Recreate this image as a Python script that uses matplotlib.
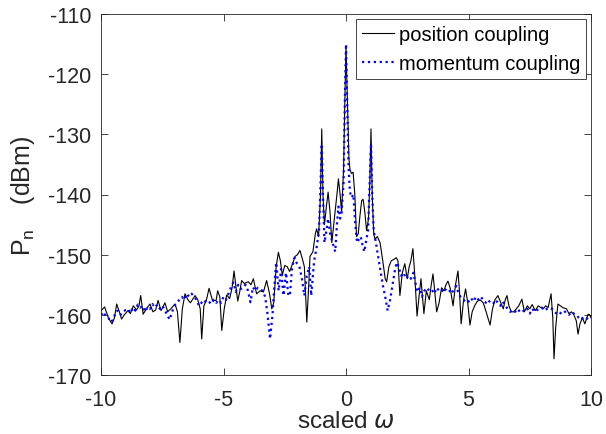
import matplotlib
matplotlib.use("Agg")
import matplotlib.pyplot as plt

plt.rcParams['font.family'] = ['Liberation Sans', 'DejaVu Sans']
plt.rcParams['axes.unicode_minus'] = False

# position coupling (black)
x_pos = [-10.0, -9.85, -9.7, -9.55, -9.45, -9.36, -9.25, -9.16, -9.05, -8.9, -8.8, -8.68, -8.55, -8.45,
         -8.38, -8.28, -8.15, -8.0, -7.88, -7.77, -7.67, -7.55, -7.39, -7.28, -7.15, -6.98, -6.88, -6.78,
         -6.68, -6.57, -6.45, -6.35, -6.16, -6.05, -5.95, -5.89, -5.8, -5.7, -5.59, -5.45, -5.3, -5.24,
         -5.15, -5.07, -4.97, -4.87, -4.75, -4.65, -4.57, -4.5, -4.42, -4.33, -4.26, -4.15, -3.99, -3.88,
         -3.78, -3.65, -3.5, -3.37, -3.24, -3.12, -3.03, -2.95, -2.85, -2.76, -2.68, -2.6, -2.5, -2.4,
         -2.3, -2.18, -2.08, -1.98, -1.88, -1.76, -1.7, -1.6, -1.52, -1.47, -1.35, -1.25, -1.2, -1.12,
         -1.04, -0.99, -0.94, -0.88, -0.8, -0.73, -0.65, -0.58, -0.5, -0.44, -0.37, -0.31, -0.24, -0.18,
         -0.1, -0.05, 0.0, 0.06, 0.12, 0.16, 0.22, 0.29, 0.36, 0.43, 0.5, 0.57, 0.64, 0.7, 0.77, 0.84,
         0.92, 0.97, 1.02, 1.07, 1.13, 1.18, 1.28, 1.39, 1.5, 1.6, 1.66, 1.75, 1.85, 1.95, 2.05, 2.12,
         2.2, 2.3, 2.4, 2.5, 2.58, 2.65, 2.73, 2.8, 2.9, 2.98, 3.06, 3.12, 3.18, 3.28, 3.4, 3.48, 3.55,
         3.62, 3.7, 3.8, 3.9, 4.0, 4.08, 4.16, 4.25, 4.37, 4.47, 4.57, 4.63, 4.7, 4.8, 4.88, 4.97, 5.06,
         5.15, 5.25, 5.35, 5.47, 5.6, 5.72, 5.88, 5.98, 6.08, 6.2, 6.32, 6.42, 6.5, 6.57, 6.65, 6.75,
         6.85, 6.95, 7.05, 7.18, 7.28, 7.4, 7.5, 7.6, 7.72, 7.85, 7.95, 8.05, 8.15, 8.25, 8.37, 8.44,
         8.49, 8.56, 8.65, 8.75, 8.85, 9.0, 9.1, 9.2, 9.3, 9.4, 9.47, 9.55, 9.65, 9.75, 9.88, 9.95, 10.0]
p_pos = [-159.3, -158.7, -160.5, -161.5, -160.5, -158.2, -159.5, -160.7, -160.0, -159.3, -159.8, -158.5,
         -159.2, -158.5, -156.8, -159.9, -159.0, -158.2, -159.5, -159.2, -157.6, -159.3, -158.0, -159.5,
         -159.0, -158.2, -159.5, -164.6, -159.0, -156.5, -157.5, -158.0, -156.8, -157.5, -159.0, -164.0,
         -158.5, -157.6, -155.6, -157.6, -157.6, -156.0, -157.0, -162.6, -159.0, -156.7, -157.3, -155.5,
         -152.7, -155.0, -157.7, -156.0, -154.3, -154.8, -154.5, -155.0, -154.0, -156.5, -156.0, -156.2,
         -154.3, -156.5, -159.0, -158.0, -152.0, -149.6, -151.0, -153.4, -151.8, -152.0, -152.8, -151.5,
         -150.3, -150.0, -149.3, -151.0, -152.0, -161.2, -155.0, -150.3, -149.5, -146.5, -145.7, -147.0,
         -140.0, -129.1, -140.0, -145.0, -142.0, -139.6, -143.0, -148.0, -145.0, -142.6, -140.0, -137.4,
         -140.0, -143.0, -136.0, -125.0, -115.5, -125.0, -134.0, -135.8, -136.5, -136.3, -140.0, -147.0,
         -146.5, -143.5, -141.0, -140.8, -143.0, -146.0, -144.0, -138.0, -129.1, -140.0, -146.5, -147.4,
         -147.0, -148.0, -151.0, -154.0, -154.5, -152.0, -151.0, -150.8, -150.5, -151.0, -156.8, -153.0,
         -151.5, -154.0, -152.0, -151.0, -149.0, -153.0, -160.2, -157.0, -154.0, -157.0, -159.8, -156.0,
         -157.5, -155.0, -153.2, -156.0, -159.5, -158.0, -155.5, -156.0, -155.0, -154.4, -155.5, -158.5,
         -155.0, -152.7, -156.0, -161.5, -157.5, -155.7, -158.0, -161.7, -159.5, -158.5, -157.8, -157.5,
         -158.0, -159.5, -161.7, -159.0, -157.5, -156.8, -158.0, -159.0, -157.5, -156.8, -158.5, -159.5,
         -159.5, -159.0, -158.5, -157.4, -159.5, -158.5, -159.0, -158.3, -159.3, -158.5, -158.8, -159.0,
         -158.5, -158.8, -156.5, -160.5, -167.3, -162.0, -158.2, -158.5, -158.8, -159.0, -159.8, -159.5,
         -160.0, -161.0, -163.2, -161.5, -160.5, -161.5, -159.9, -160.0, -160.5]

# momentum coupling (blue dotted)
x_mom = [-10.0, -9.9, -9.8, -9.7, -9.6, -9.5, -9.4, -9.3, -9.2, -9.1, -9.0, -8.9, -8.8, -8.7, -8.6, -8.5,
         -8.4, -8.3, -8.2, -8.1, -8.0, -7.9, -7.8, -7.7, -7.6, -7.5, -7.4, -7.3, -7.2, -7.1, -7.0, -6.9,
         -6.8, -6.7, -6.6, -6.5, -6.4, -6.3, -6.2, -6.1, -6.0, -5.9, -5.8, -5.7, -5.6, -5.5, -5.4, -5.3,
         -5.2, -5.1, -5.0, -4.9, -4.8, -4.7, -4.6, -4.5, -4.4, -4.3, -4.2, -4.1, -4.0, -3.9, -3.8, -3.7,
         -3.6, -3.5, -3.4, -3.3, -3.2, -3.1, -3.0, -2.95, -2.85, -2.75, -2.65, -2.55, -2.45, -2.35, -2.29,
         -2.2, -2.1, -2.0, -1.9, -1.8, -1.7, -1.6, -1.5, -1.42, -1.3, -1.2, -1.1, -1.04, -0.99, -0.94,
         -0.88, -0.8, -0.73, -0.65, -0.55, -0.44, -0.37, -0.31, -0.24, -0.18, -0.1, -0.05, 0.0, 0.05, 0.1,
         0.16, 0.23, 0.3, 0.38, 0.45, 0.52, 0.6, 0.68, 0.75, 0.83, 0.9, 0.96, 1.02, 1.07, 1.13, 1.2, 1.3,
         1.4, 1.5, 1.6, 1.7, 1.8, 1.9, 2.0, 2.07, 2.15, 2.25, 2.35, 2.45, 2.55, 2.65, 2.75, 2.85, 2.9,
         3.0, 3.1, 3.2, 3.3, 3.4, 3.5, 3.6, 3.7, 3.8, 3.9, 4.0, 4.1, 4.2, 4.3, 4.4, 4.5, 4.6, 4.7, 4.8,
         4.9, 5.0, 5.1, 5.2, 5.3, 5.4, 5.5, 5.6, 5.7, 5.8, 5.9, 6.0, 6.1, 6.2, 6.3, 6.4, 6.5, 6.6, 6.7,
         6.8, 6.9, 7.0, 7.1, 7.2, 7.3, 7.4, 7.5, 7.6, 7.7, 7.8, 7.9, 8.0, 8.1, 8.2, 8.3, 8.4, 8.5, 8.6,
         8.7, 8.8, 8.9, 9.0, 9.1, 9.2, 9.3, 9.4, 9.5, 9.6, 9.7, 9.8, 9.9, 10.0]
p_mom = [-160.0, -159.5, -160.3, -160.5, -161.2, -160.8, -159.5, -159.3, -160.0, -159.5, -159.2, -159.0,
         -159.7, -158.8, -159.3, -158.3, -158.8, -158.5, -159.5, -158.7, -159.0, -158.2, -158.8, -158.3,
         -159.0, -158.5, -159.2, -160.0, -160.8, -159.5, -158.5, -158.0, -157.5, -157.0, -157.5, -156.5,
         -157.0, -156.5, -157.0, -157.5, -158.5, -158.0, -157.5, -158.0, -157.8, -158.2, -157.5, -158.0,
         -157.5, -158.0, -157.0, -157.5, -156.5, -155.5, -154.6, -156.2, -155.0, -155.7, -155.5, -155.0,
         -156.0, -157.9, -155.4, -156.0, -155.5, -155.8, -156.0, -157.0, -160.0, -164.0, -160.0, -156.8,
         -151.3, -156.0, -152.4, -156.8, -153.0, -156.8, -156.8, -152.0, -150.5, -151.5, -152.0, -154.0,
         -156.8, -153.5, -152.0, -156.8, -151.0, -148.8, -146.0, -138.0, -131.6, -140.0, -148.0, -146.0,
         -144.0, -146.5, -148.0, -149.5, -145.0, -142.0, -144.0, -143.0, -138.0, -125.0, -115.0, -125.0,
         -135.0, -139.6, -140.5, -140.0, -145.0, -148.0, -147.5, -147.0, -148.5, -149.5, -147.5, -146.0,
         -139.0, -131.6, -140.0, -146.0, -147.5, -150.0, -152.5, -155.0, -157.0, -159.3, -157.5, -155.0,
         -152.5, -151.3, -152.0, -153.5, -153.0, -154.0, -153.5, -154.0, -153.0, -155.0, -156.2, -155.5,
         -157.0, -156.0, -155.5, -156.0, -155.8, -156.5, -155.5, -156.0, -156.2, -155.5, -156.0, -155.8,
         -156.5, -155.8, -155.2, -156.5, -157.2, -157.5, -158.0, -157.8, -157.2, -157.8, -157.0, -157.5,
         -157.0, -157.5, -158.0, -157.5, -158.0, -158.2, -157.5, -158.0, -158.5, -157.8, -158.5, -159.0,
         -159.5, -159.2, -159.5, -159.0, -159.5, -159.2, -159.5, -159.0, -159.8, -159.0, -159.5, -159.2,
         -159.0, -158.8, -159.3, -159.0, -158.8, -159.0, -159.5, -159.8, -160.0, -159.5, -159.3, -159.8,
         -160.0, -159.5, -159.8, -160.0, -160.5, -160.8, -160.3, -160.5, -160.8, -161.0]

x_ticks = [-10, -5, 0, 5, 10]
y_ticks = [-170, -160, -150, -140, -130, -120, -110]

fig = plt.figure(figsize=(6.06, 4.35), dpi=100)
ax = fig.add_axes([101/606, 59/435, 490/606, 361/435])

ax.plot(x_pos, p_pos, color='black', lw=0.8, label='position coupling')
ax.plot(x_mom, p_mom, color=(0, 0, 1), lw=1.6, ls=':', label='momentum coupling')

ax.set_xlim(-10, 10)
ax.set_ylim(-170, -110)
ax.set_xticks(x_ticks)
ax.set_yticks(y_ticks)
ax.tick_params(direction='in', top=True, right=True, labelsize=15.5, colors='#262626',
               length=5, width=0.6, pad=7)
ax.tick_params(axis='x', pad=10)
for s in ax.spines.values():
    s.set_color('#262626')
    s.set_linewidth(0.6)

ax.set_xlabel(r'scaled $\omega$', fontsize=17.5, color='#262626', labelpad=0)
ax.set_ylabel(r'$\mathregular{P_n}\quad$(dBm)', fontsize=18, color='#262626', labelpad=8)

leg = ax.legend(loc='upper right', fontsize=14.5, fancybox=False, framealpha=1,
                edgecolor='#262626', borderaxespad=0.25, handlelength=1.55,
                handletextpad=0.25, borderpad=0.3, labelspacing=0.5)
leg.get_frame().set_linewidth(0.6)

fig.savefig('out.png', dpi=100)
